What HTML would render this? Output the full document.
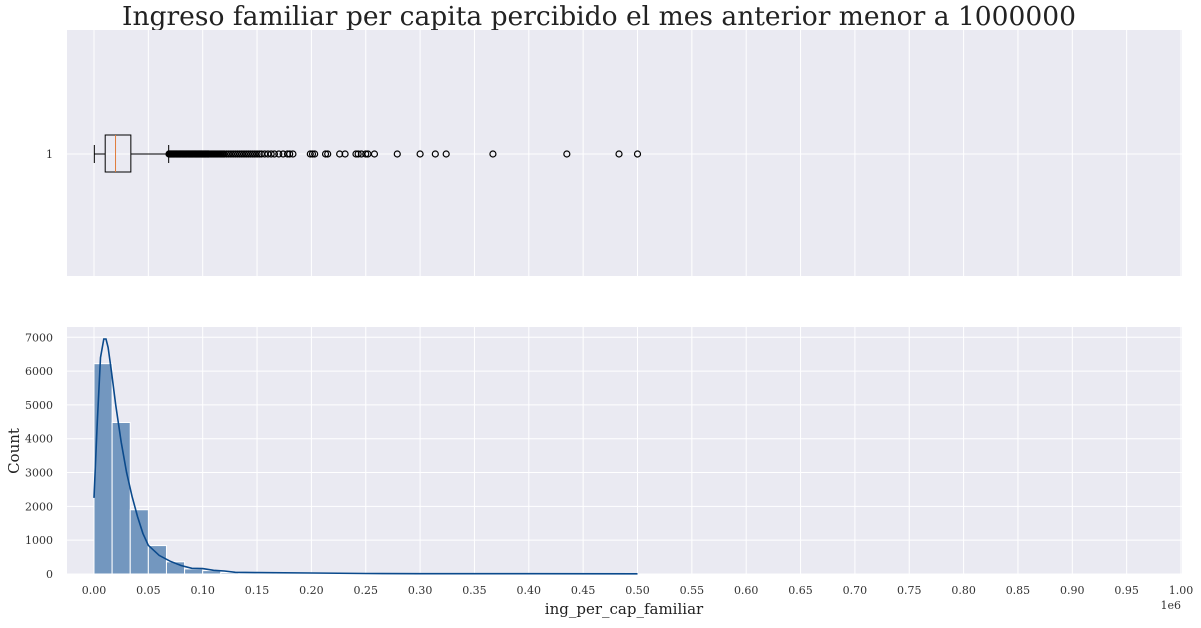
<!DOCTYPE html>
<html><head><meta charset="utf-8"><style>
body{margin:0;background:#fff;width:1201px;height:623px;overflow:hidden}
svg{font-family:"DejaVu Serif","Liberation Serif",serif}
</style></head><body>
<svg id="c" width="1201" height="623"></svg>
<script>
const xTicks=[0,0.05,0.1,0.15,0.2,0.25,0.3,0.35,0.4,0.45,0.5,0.55,0.6,0.65,0.7,0.75,0.8,0.85,0.9,0.95,1.0];
const yTicks=[0,1000,2000,3000,4000,5000,6000,7000];
const binCounts=[6220,4480,1900,840,360,150,100,40,35,25,20,15,12,10,8,8,6,6,5,5,4,4,3,3,3,2,2,2,2,3];
const binWidth=0.5/30;
const kdeX=[0,0.003,0.006,0.009,0.011,0.013,0.016,0.02,0.025,0.03,0.035,0.04,0.045,0.05,0.06,0.07,0.08,0.09,0.1,0.11,0.12,0.13,0.15,0.2,0.25,0.3,0.4,0.5];
const kdeY=[2250,4500,6400,6950,6950,6700,6000,5000,3900,3000,2300,1700,1200,850,550,380,250,170,160,110,90,50,40,30,15,10,8,5];
const boxStats=[0.0003,0.0103,0.0198,0.0339,0.0687];
const outliers=[0.069,0.0695,0.07,0.0705,0.071,0.0715,0.072,0.0725,0.073,0.0735,0.074,0.0745,0.075,0.0755,0.076,0.0765,0.077,0.0775,0.078,0.0785,0.079,0.0795,0.08,0.0805,0.081,0.0815,0.082,0.0825,0.083,0.0835,0.084,0.0845,0.085,0.0855,0.086,0.0865,0.087,0.0875,0.088,0.0885,0.089,0.0895,0.09,0.0905,0.091,0.0915,0.092,0.0925,0.093,0.0935,0.094,0.0945,0.095,0.0955,0.096,0.0965,0.097,0.0975,0.098,0.0985,0.099,0.0995,0.1,0.1005,0.101,0.1015,0.102,0.1025,0.103,0.1035,0.104,0.1045,0.105,0.1055,0.106,0.107,0.108,0.109,0.11,0.111,0.112,0.113,0.114,0.115,0.116,0.117,0.118,0.119,0.12,0.122,0.124,0.126,0.128,0.13,0.132,0.134,0.136,0.138,0.14,0.142,0.144,0.146,0.148,0.15,0.152,0.154,0.157,0.16,0.163,0.166,0.17,0.174,0.178,0.18,0.183,0.199,0.201,0.203,0.213,0.215,0.226,0.231,0.241,0.243,0.246,0.25,0.252,0.258,0.279,0.3,0.314,0.324,0.367,0.435,0.483,0.5];

const NS="http://www.w3.org/2000/svg";
const svg=document.getElementById('c');
function mk(t,a,p){const e=document.createElementNS(NS,t);for(const k in a)e.setAttribute(k,a[k]);(p||svg).appendChild(e);return e;}
const L=67,R=1182,T1=30,B1=276,T2=327,B2=574;
const sx=v=>94+v*1087;
const sy=v=>B2-v*(B2-337.3)/7000;

let t=mk('text',{x:599,y:25,'text-anchor':'middle','font-size':26.5,fill:'#222'});t.textContent='Ingreso familiar per capita percibido el mes anterior menor a 1000000';


let bg1=mk('rect',{x:L,y:T1,width:R-L,height:B1-T1,fill:'#eaeaf2'});

let bg2=mk('rect',{x:L,y:T2,width:R-L,height:B2-T2,fill:'#eaeaf2'});

xTicks.forEach(v=>{
  mk('line',{x1:sx(v),x2:sx(v),y1:T1,y2:B1,stroke:'#fff','stroke-width':1});
  mk('line',{x1:sx(v),x2:sx(v),y1:T2,y2:B2,stroke:'#fff','stroke-width':1});
  let l=mk('text',{x:sx(v),y:594,'text-anchor':'middle','font-size':11,fill:'#333'});l.textContent=v.toFixed(2);
  
});
mk('line',{x1:L,x2:R,y1:154,y2:154,stroke:'#fff'});
let y1=mk('text',{x:53,y:158,'text-anchor':'end','font-size':11,fill:'#333'});y1.textContent='1';

yTicks.forEach(v=>{
  mk('line',{x1:L,x2:R,y1:sy(v),y2:sy(v),stroke:'#fff'});
  let l=mk('text',{x:53,y:sy(v)+4,'text-anchor':'end','font-size':11,fill:'#333'});l.textContent=v;
  
});

const g=mk('g',{stroke:'#000','stroke-width':1,fill:'none'});

const cy=154;
mk('line',{x1:sx(boxStats[0]),x2:sx(boxStats[1]),y1:cy,y2:cy},g);
mk('line',{x1:sx(boxStats[3]),x2:sx(boxStats[4]),y1:cy,y2:cy},g);
mk('line',{x1:sx(boxStats[0]),x2:sx(boxStats[0]),y1:145,y2:163},g);
mk('line',{x1:sx(boxStats[4]),x2:sx(boxStats[4]),y1:145,y2:163},g);
mk('rect',{x:sx(boxStats[1]),y:135,width:sx(boxStats[3])-sx(boxStats[1]),height:37},g);
mk('line',{x1:sx(boxStats[2]),x2:sx(boxStats[2]),y1:135,y2:172,stroke:'#e07b39'},g);
outliers.forEach(v=>{
  let c=mk('circle',{cx:sx(v),cy:cy,r:3,fill:'none',stroke:'#000','stroke-width':1.2});
  
});

binCounts.forEach((v,i)=>{
  let r=mk('rect',{x:sx(i*binWidth),y:sy(v),width:sx(binWidth)-sx(0),height:B2-sy(v),fill:'#7397bf',stroke:'#fff','stroke-width':1});
  
});
let d=kdeX.map((x,i)=>(i?'L':'M')+sx(x).toFixed(1)+','+sy(kdeY[i]).toFixed(1)).join(' ');
let p=mk('path',{d:d,fill:'none',stroke:'#0b4a8c','stroke-width':1.6});


let xl=mk('text',{x:624,y:614,'text-anchor':'middle','font-size':15,fill:'#222'});xl.textContent='ing_per_cap_familiar';

let yl=mk('text',{x:19,y:451,'text-anchor':'middle','font-size':15,fill:'#222',transform:'rotate(-90 19 451)'});yl.textContent='Count';

let ex=mk('text',{x:1181,y:609,'text-anchor':'end','font-size':11,fill:'#333'});ex.textContent='1e6';

</script>
</body></html>
